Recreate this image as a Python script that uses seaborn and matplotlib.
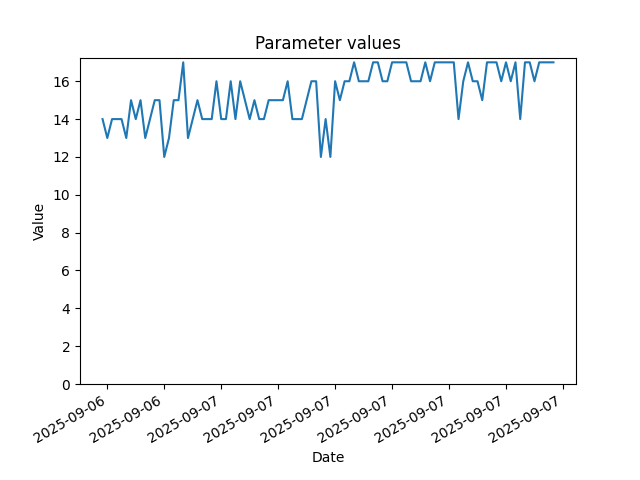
import matplotlib
matplotlib.use('Agg')
import matplotlib.pyplot as plt
import matplotlib.dates as mdates
import pandas as pd
import seaborn as sns

# readings every 15 minutes, starting 2025-09-06 17:45
start_time = '2025-09-06 17:45'
step = '15min'
values = [
    14, 13, 14, 14, 14, 13, 15, 14, 15, 13, 14, 15, 15, 12, 13, 15,
    15, 17, 13, 14, 15, 14, 14, 14, 16, 14, 14, 16, 14, 16, 15, 14,
    15, 14, 14, 15, 15, 15, 15, 16, 14, 14, 14, 15, 16, 16, 12, 14,
    12, 16, 15, 16, 16, 17, 16, 16, 16, 17, 17, 16, 16, 17, 17, 17,
    17, 16, 16, 16, 17, 16, 17, 17, 17, 17, 17, 14, 16, 17, 16, 16,
    15, 17, 17, 17, 16, 17, 16, 17, 14, 17, 17, 16, 17, 17, 17, 17,
]
dates = pd.date_range(start=start_time, periods=len(values), freq=step)

df = pd.DataFrame({'Date': dates, 'Value': values})

fig, ax = plt.subplots(figsize=(6.4, 4.8), dpi=100)
sns.lineplot(x='Date', y='Value', data=df, ax=ax)

ax.set_title('Parameter values')
ax.set_xlabel('Date')
ax.set_ylabel('Value')
ax.set_ylim(bottom=0)

# ticks every 3 hours, aligned to the clock
ax.xaxis.set_major_locator(mdates.HourLocator(byhour=range(0, 24, 3)))
ax.xaxis.set_major_formatter(mdates.DateFormatter('%Y-%m-%d'))
fig.autofmt_xdate()

plt.savefig('out.png', dpi=100)
plt.close()
